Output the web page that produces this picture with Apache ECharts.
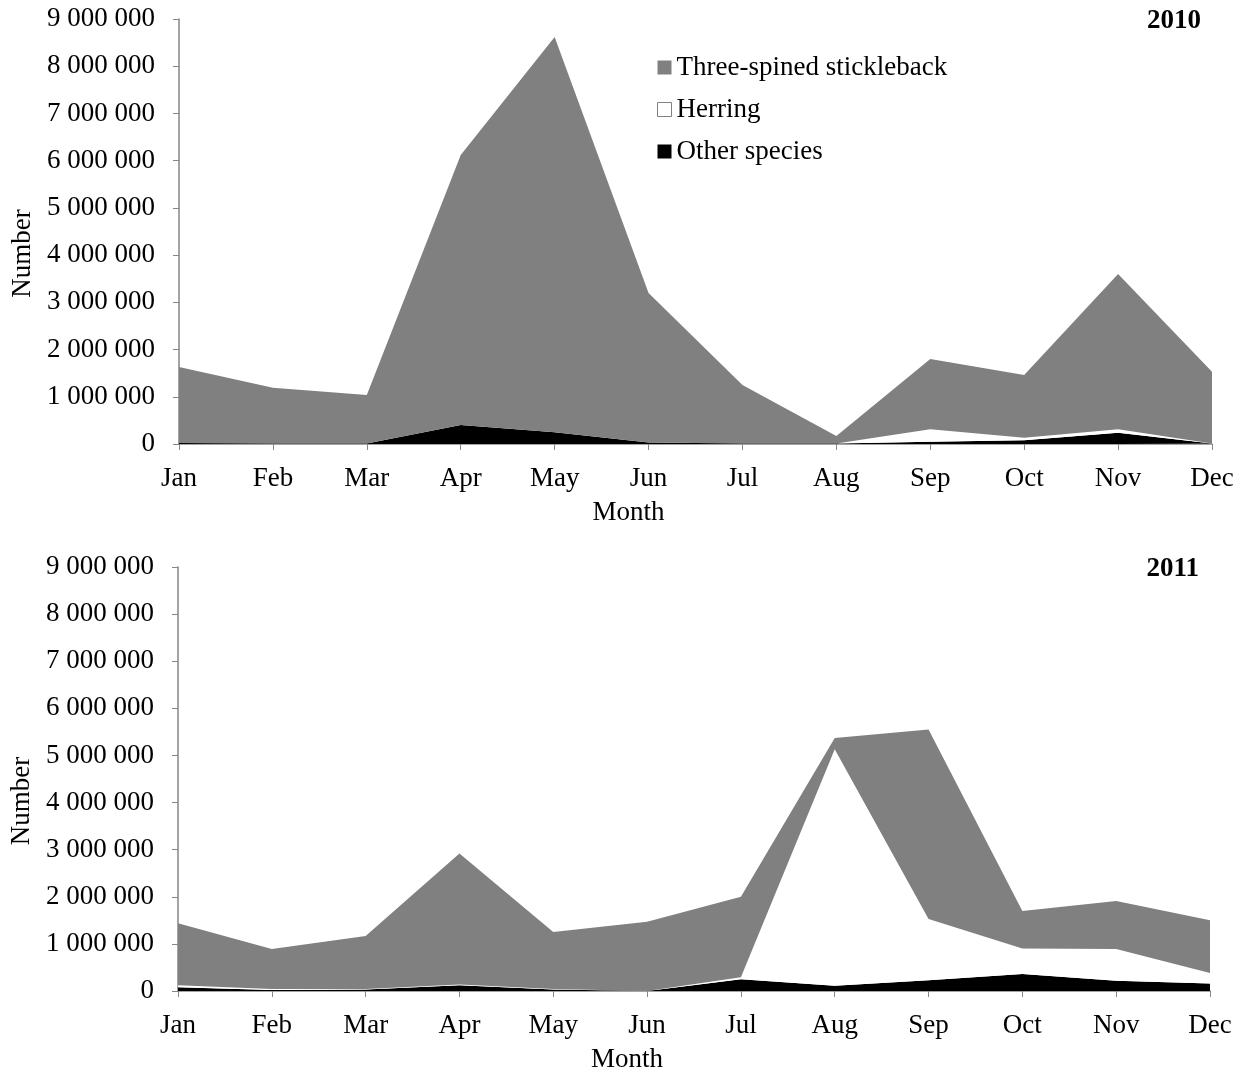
<!DOCTYPE html>
<html>
<head>
<meta charset="utf-8">
<script src="https://cdn.jsdelivr.net/npm/echarts@6/dist/echarts.min.js"></script>
<style>
  html, body { margin: 0; padding: 0; background: #fff; }
  #chart { width: 1244px; height: 1074px; }
</style>
</head>
<body>
<div id="chart"></div>
<script>
const months = ['Jan', 'Feb', 'Mar', 'Apr', 'May', 'Jun', 'Jul', 'Aug', 'Sep', 'Oct', 'Nov', 'Dec'];

// 2010
const other2010 = [20000, 10000, 10000, 400000, 250000, 30000, 10000, 10000, 50000, 80000, 240000, 10000];
const herring2010 = [0, 0, 0, 0, 0, 0, 0, 0, 260000, 50000, 70000, 0];
const stickle2010 = [1610000, 1180000, 1030000, 5720000, 8370000, 3170000, 1240000, 160000, 1490000, 1330000, 3290000, 1520000];

// 2011
const other2011 = [80000, 20000, 30000, 120000, 30000, 0, 250000, 110000, 230000, 360000, 220000, 160000];
const herring2011 = [40000, 20000, 10000, 20000, 10000, 0, 40000, 5020000, 1300000, 540000, 670000, 220000];
const stickle2011 = [1320000, 850000, 1130000, 2780000, 1210000, 1470000, 1710000, 240000, 4020000, 800000, 1020000, 1120000];

const yTicks = ['0', '1 000 000', '2 000 000', '3 000 000', '4 000 000', '5 000 000', '6 000 000', '7 000 000', '8 000 000', '9 000 000'];

const font = '"Liberation Serif", "Times New Roman", serif';
const fs = 27;
const axisGray = '#868686';

const chart = echarts.init(document.getElementById('chart'));

function xAxisFor(idx) {
    return {
        gridIndex: idx,
        type: 'category',
        boundaryGap: false,
        data: months,
        name: 'Month',
        nameLocation: 'middle',
        nameGap: 55,
        // the title sits left of the plot centre in the original
        nameTextStyle: { fontFamily: font, fontSize: fs, color: '#000', padding: [0, 134, 0, 0] },
        axisLine: { lineStyle: { color: axisGray, width: 1.5 } },
        axisTick: { show: true, length: 6, alignWithLabel: true, lineStyle: { color: axisGray } },
        axisLabel: { fontFamily: font, fontSize: fs, color: '#000', margin: 21, interval: 0 }
    };
}

function yAxisFor(idx) {
    return {
        gridIndex: idx,
        type: 'value',
        min: 0,
        max: 9000000,
        interval: 1000000,
        name: 'Number',
        nameLocation: 'middle',
        nameGap: 143,
        nameRotate: 90,
        nameTextStyle: { fontFamily: font, fontSize: fs, color: '#000', padding: [0, 44, 0, 0] },
        axisLine: { show: true, lineStyle: { color: axisGray, width: 1.5 } },
        axisTick: { show: true, length: 6, lineStyle: { color: axisGray } },
        splitLine: { show: false },
        axisLabel: {
            fontFamily: font, fontSize: fs, color: '#000', margin: 24,
            formatter: (v) => yTicks[Math.round(v / 1000000)]
        }
    };
}

function seriesFor(idx, other, herring, stickle) {
    const base = {
        type: 'line',
        stack: 'total' + idx,
        xAxisIndex: idx,
        yAxisIndex: idx,
        symbol: 'none',
        lineStyle: { width: 0 },
        emphasis: { disabled: true },
        silent: true
    };
    return [
        Object.assign({}, base, { name: 'Other species', color: '#000', areaStyle: { color: '#000', opacity: 1 }, data: other }),
        Object.assign({}, base, { name: 'Herring', color: '#fff', areaStyle: { color: '#fff', opacity: 1 }, data: herring }),
        Object.assign({}, base, { name: 'Three-spined stickleback', color: '#808080', areaStyle: { color: '#808080', opacity: 1 }, data: stickle })
    ];
}

const option = {
    animation: false,
    backgroundColor: '#fff',
    title: [
        { text: '2010', right: 38, top: 3, textStyle: { fontFamily: font, fontSize: fs, fontWeight: 'bold', color: '#000' } },
        { text: '2011', right: 40, top: 551, textStyle: { fontFamily: font, fontSize: fs, fontWeight: 'bold', color: '#000' } }
    ],
    legend: {
        orient: 'vertical',
        left: 657,
        top: 54,
        padding: 0,
        itemWidth: 14,
        itemHeight: 14,
        itemGap: 15,
        itemStyle: { borderWidth: 0 },
        textStyle: { fontFamily: font, fontSize: fs, color: '#000' },
        icon: 'rect',
        data: [
            { name: 'Three-spined stickleback', itemStyle: { color: '#808080' } },
            { name: 'Herring', itemStyle: { color: '#fff', borderColor: '#808080', borderWidth: 1 } },
            { name: 'Other species', itemStyle: { color: '#000' } }
        ],
        selectedMode: false
    },
    grid: [
        { left: 179, right: 32, top: 19, height: 425 },
        { left: 170, right: 34, top: 567, height: 425 }
    ],
    xAxis: [xAxisFor(0), xAxisFor(1)],
    yAxis: [yAxisFor(0), yAxisFor(1)],
    series: seriesFor(0, other2010, herring2010, stickle2010).concat(seriesFor(1, other2011, herring2011, stickle2011))
};

chart.setOption(option);
</script>
</body>
</html>
